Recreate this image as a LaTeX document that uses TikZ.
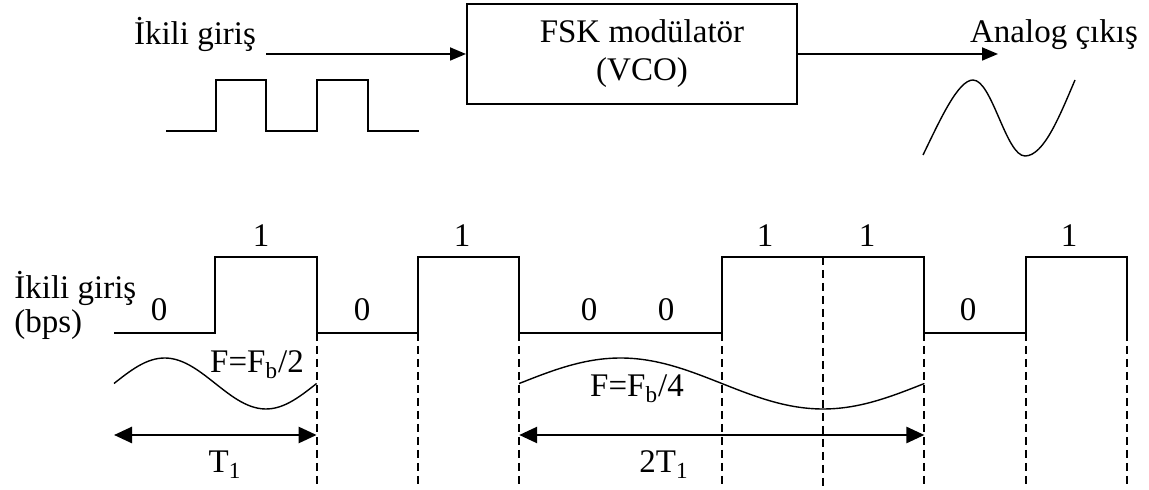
\documentclass[tikz,border=0pt]{standalone}
\usepackage{fontspec}
\setmainfont{Liberation Serif}
\usetikzlibrary{arrows.meta,positioning}

\begin{document}
\begin{tikzpicture}[
    x=0.5pt, y=-0.5pt,
    sig/.style={line width=1pt},
    wave/.style={line width=0.7pt},
    guide/.style={line width=1pt,dash pattern=on 4pt off 2.5pt},
    flow/.style={line width=0.9pt,-{Triangle[length=8pt,width=6.5pt]}},
    dim/.style={line width=1.3pt,{Triangle[length=9pt,width=8pt]}-{Triangle[length=9pt,width=8pt]}},
    lbl/.style={inner sep=0pt,font=\fontsize{16.5}{19}\selectfont},
    block/.style={rectangle,draw,line width=1pt,minimum width=165pt,minimum height=50pt,
                  align=center,font=\fontsize{16.5}{19}\selectfont}
  ]
  \useasboundingbox (0,0) rectangle (1149,490);
  % Modulator
  \node[block] (mod) at (632,54) {\hspace*{10pt}FSK modülatör\\\hspace*{10pt}(VCO)};
  \node[lbl,anchor=base] (inlbl) at (195,45) {İkili giriş};
  \node[lbl,anchor=base] (outlbl) at (1054,43) {Analog çıkış};
  \coordinate (inA) at (266,54);
  \coordinate (outA) at (998,54);
  \draw[flow] (inA) -- (mod.west);
  \draw[flow] (mod.east) -- (outA);
  % Small sketches
  \draw[sig] (166,131) -- (216,131) -- (216,80) -- (266,80) -- (266,131) -- (317,131)
    -- (317,80) -- (368,80) -- (368,131) -- (419,131);
  \draw[wave] (923,155) .. controls (940,120) and (958,80) .. (973,80)
    .. controls (992,80) and (1006,156) .. (1025,156)
    .. controls (1044,156) and (1060,115) .. (1075,80);
  % Input bits
  \node[lbl,anchor=base west] (inbits) at (14,299) {İkili giriş};
  \node[lbl,anchor=base west] (bps) at (14,333) {(bps)};
  \draw[sig] (114,333) -- (215.3,333) -- (215.3,257) -- (316.6,257) -- (316.6,333)
    -- (417.9,333) -- (417.9,257) -- (519.2,257) -- (519.2,333) -- (721.8,333)
    -- (721.8,257) -- (924.4,257) -- (924.4,333) -- (1025.7,333) -- (1025.7,257)
    -- (1127,257) -- (1127,333);
  \foreach \i/\x/\y/\b in {1/159/321/0, 2/261/247/1, 3/362/321/0, 4/462/247/1, 5/589/321/0,
                           6/666/321/0, 7/765/247/1, 8/867/247/1, 9/968/321/0, 10/1069/247/1} {
    \node[lbl,anchor=base] (bit\i) at (\x,\y) {\b};
  }
  % Bit boundaries
  \foreach \x/\y in {316.6/333, 417.9/333, 519.2/333, 721.8/333, 823.1/257,
                     924.4/333, 1025.7/333, 1127/333} {
    \draw[guide] (\x,\y) -- (\x,488);
  }
  % Output waves
  \draw[wave] plot[domain=114:316.6,samples=60] (\x,{383.5-25.5*sin((\x-114)/202.6*360)});
  \draw[wave] plot[domain=519.2:924.4,samples=90] (\x,{383.5-25.5*sin((\x-519.2)/405.2*360)});
  \node[lbl,anchor=base] (fhalf) at (257,373) {F=F\textsubscript{b}/2};
  \node[lbl,anchor=base] (fquarter) at (637,397) {F=F\textsubscript{b}/4};
  % Periods
  \coordinate (tA) at (114,435);
  \coordinate (tB) at (316.6,435);
  \coordinate (tC) at (519.2,435);
  \coordinate (tD) at (924.4,435);
  \draw[dim] (tA) -- (tB);
  \draw[dim] (tC) -- (tD);
  \node[lbl,anchor=base] (tone) at (225,473) {T\textsubscript{1}};
  \node[lbl,anchor=base] (ttwo) at (664,473) {2T\textsubscript{1}};
\end{tikzpicture}
\end{document}
